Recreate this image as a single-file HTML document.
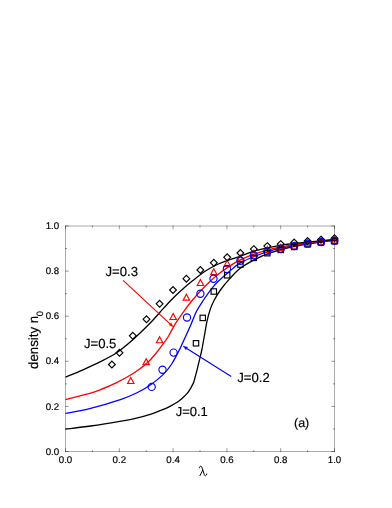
<!DOCTYPE html><html><head><meta charset="utf-8"><style>html,body{margin:0;padding:0;background:#fff}body{width:392px;height:508px;position:relative;overflow:hidden;font-family:"Liberation Sans",sans-serif}</style></head><body>
<svg width="392" height="508" viewBox="0 0 392 508" style="position:absolute;left:0;top:0;will-change:transform;opacity:0.999;text-rendering:geometricPrecision">
<g stroke="#000" stroke-width="1" fill="none" stroke-opacity="0.33">
<rect x="65.5" y="226.0" width="269.0" height="225.5"/>
</g>
<g stroke="#000" stroke-width="1" fill="none" stroke-opacity="0.4">
<path d="M65.50,452.0v-3.8M65.50,225.5v3.8"/>
<path d="M65.0,451.50h3.8M335.0,451.50h-3.8"/>
<path d="M92.40,452.0v-2.0M92.40,225.5v2.0"/>
<path d="M65.0,428.95h2.0M335.0,428.95h-2.0"/>
<path d="M119.30,452.0v-3.8M119.30,225.5v3.8"/>
<path d="M65.0,406.40h3.8M335.0,406.40h-3.8"/>
<path d="M146.20,452.0v-2.0M146.20,225.5v2.0"/>
<path d="M65.0,383.85h2.0M335.0,383.85h-2.0"/>
<path d="M173.10,452.0v-3.8M173.10,225.5v3.8"/>
<path d="M65.0,361.30h3.8M335.0,361.30h-3.8"/>
<path d="M200.00,452.0v-2.0M200.00,225.5v2.0"/>
<path d="M65.0,338.75h2.0M335.0,338.75h-2.0"/>
<path d="M226.90,452.0v-3.8M226.90,225.5v3.8"/>
<path d="M65.0,316.20h3.8M335.0,316.20h-3.8"/>
<path d="M253.80,452.0v-2.0M253.80,225.5v2.0"/>
<path d="M65.0,293.65h2.0M335.0,293.65h-2.0"/>
<path d="M280.70,452.0v-3.8M280.70,225.5v3.8"/>
<path d="M65.0,271.10h3.8M335.0,271.10h-3.8"/>
<path d="M307.60,452.0v-2.0M307.60,225.5v2.0"/>
<path d="M65.0,248.55h2.0M335.0,248.55h-2.0"/>
<path d="M334.50,452.0v-3.8M334.50,225.5v3.8"/>
<path d="M65.0,226.00h3.8M335.0,226.00h-3.8"/>
</g>
<path d="M65.50,429.10 C69.68,428.58 81.32,427.33 90.60,426.00 C99.88,424.67 113.55,422.42 121.20,421.10 C128.85,419.78 131.40,419.32 136.50,418.10 C141.60,416.88 147.55,415.17 151.80,413.80 C156.05,412.43 158.97,411.15 162.00,409.90 C165.03,408.65 167.28,407.70 170.00,406.30 C172.72,404.90 176.13,402.95 178.30,401.50 C180.47,400.05 181.52,398.95 183.00,397.60 C184.48,396.25 185.93,394.93 187.20,393.40 C188.47,391.87 189.52,390.23 190.60,388.40 C191.68,386.57 193.18,383.40 193.70,382.40 C193.97,381.42 194.77,378.45 195.30,376.50 C195.83,374.55 196.37,372.82 196.90,370.70 C197.43,368.58 197.95,366.10 198.50,363.80 C199.05,361.50 199.65,359.20 200.20,356.90 C200.75,354.60 201.10,353.53 201.80,350.00 C202.50,346.47 203.55,340.42 204.40,335.70 C205.25,330.98 205.90,326.17 206.90,321.70 C207.90,317.23 209.17,312.52 210.40,308.90 C211.63,305.28 212.57,303.23 214.30,300.00 C216.03,296.77 218.18,293.10 220.80,289.50 C223.42,285.90 226.75,281.93 230.00,278.40 C233.25,274.87 236.03,271.52 240.30,268.30 C244.57,265.08 250.48,261.70 255.60,259.10 C260.72,256.50 266.10,254.47 271.00,252.70 C275.90,250.93 280.17,249.73 285.00,248.50 C289.83,247.27 294.17,246.37 300.00,245.30 C305.83,244.23 314.25,242.95 320.00,242.10 C325.75,241.25 332.08,240.52 334.50,240.20" stroke-linejoin="round" fill="none" stroke="#000" stroke-width="1.3"/>
<path d="M65.50,413.40 C69.68,412.55 81.32,410.65 90.60,408.30 C99.88,405.95 113.55,401.85 121.20,399.30 C128.85,396.75 131.70,395.35 136.50,393.00 C141.30,390.65 145.62,388.22 150.00,385.20 C154.38,382.18 159.18,378.43 162.80,374.90 C166.42,371.37 168.95,368.15 171.70,364.00 C174.45,359.85 177.71,353.02 179.30,350.00 C180.89,346.98 179.47,349.77 181.25,345.90 C183.03,342.03 187.47,332.53 190.00,326.80 C192.53,321.07 194.15,315.97 196.40,311.50 C198.65,307.03 200.92,303.87 203.50,300.00 C206.08,296.13 209.43,291.43 211.90,288.30 C214.37,285.18 215.28,284.13 218.30,281.25 C221.32,278.37 226.33,274.06 230.00,271.00 C233.67,267.94 236.03,265.40 240.30,262.90 C244.57,260.40 250.48,258.03 255.60,256.00 C260.72,253.97 266.10,252.13 271.00,250.70 C275.90,249.27 280.17,248.42 285.00,247.40 C289.83,246.38 294.17,245.53 300.00,244.60 C305.83,243.67 314.25,242.57 320.00,241.80 C325.75,241.03 332.08,240.30 334.50,240.00" stroke-linejoin="round" fill="none" stroke="#00f" stroke-width="1.3"/>
<path d="M65.50,399.50 C69.68,398.43 84.85,394.72 90.60,393.10 C96.35,391.48 95.67,391.55 100.00,389.80 C104.33,388.05 111.28,385.20 116.60,382.60 C121.92,380.00 128.00,376.52 131.90,374.20 C135.80,371.88 137.38,370.64 140.00,368.70 C142.62,366.76 145.15,364.92 147.65,362.55 C150.15,360.18 152.44,357.56 155.00,354.50 C157.56,351.44 160.73,347.28 163.00,344.20 C165.27,341.12 166.85,338.90 168.60,336.00 C170.35,333.10 171.92,329.53 173.50,326.80 C175.08,324.07 176.52,321.97 178.10,319.60 C179.68,317.23 180.60,315.87 183.00,312.60 C185.40,309.33 188.75,304.48 192.50,300.00 C196.25,295.52 201.20,290.00 205.50,285.70 C209.80,281.40 214.22,277.50 218.30,274.20 C222.38,270.90 226.33,268.28 230.00,265.90 C233.67,263.52 236.03,261.93 240.30,259.90 C244.57,257.87 250.48,255.50 255.60,253.70 C260.72,251.90 266.10,250.33 271.00,249.10 C275.90,247.87 280.17,247.15 285.00,246.30 C289.83,245.45 294.17,244.82 300.00,244.00 C305.83,243.18 314.25,242.10 320.00,241.40 C325.75,240.70 332.08,240.07 334.50,239.80" stroke-linejoin="round" fill="none" stroke="#f00" stroke-width="1.3"/>
<path d="M65.50,377.10 C68.42,375.88 77.25,372.33 83.00,369.80 C88.75,367.27 94.40,364.73 100.00,361.90 C105.60,359.07 111.18,356.45 116.60,352.80 C122.02,349.15 126.93,344.92 132.50,340.00 C138.07,335.08 145.42,327.93 150.00,323.30 C154.58,318.67 156.50,316.05 160.00,312.20 C163.50,308.35 167.67,303.65 171.00,300.20 C174.33,296.75 176.37,294.77 180.00,291.50 C183.63,288.23 188.55,284.02 192.80,280.60 C197.05,277.18 201.25,273.77 205.50,271.00 C209.75,268.23 214.22,265.90 218.30,264.00 C222.38,262.10 226.33,260.88 230.00,259.60 C233.67,258.32 236.03,257.78 240.30,256.30 C244.57,254.82 250.48,252.22 255.60,250.70 C260.72,249.18 266.10,248.22 271.00,247.20 C275.90,246.18 280.17,245.33 285.00,244.60 C289.83,243.87 294.17,243.43 300.00,242.80 C305.83,242.17 314.25,241.35 320.00,240.80 C325.75,240.25 332.08,239.72 334.50,239.50" stroke-linejoin="round" fill="none" stroke="#000" stroke-width="1.3"/>
<path d="M130.80,377.45L134.00,383.45L127.60,383.45Z" fill="none" stroke="#f00" stroke-width="1.15"/>
<path d="M146.20,358.65L149.40,364.65L143.00,364.65Z" fill="none" stroke="#f00" stroke-width="1.15"/>
<path d="M159.60,336.75L162.80,342.75L156.40,342.75Z" fill="none" stroke="#f00" stroke-width="1.15"/>
<path d="M173.20,313.45L176.40,319.45L170.00,319.45Z" fill="none" stroke="#f00" stroke-width="1.15"/>
<path d="M186.40,294.15L189.60,300.15L183.20,300.15Z" fill="none" stroke="#f00" stroke-width="1.15"/>
<path d="M200.40,279.45L203.60,285.45L197.20,285.45Z" fill="none" stroke="#f00" stroke-width="1.15"/>
<path d="M213.80,268.65L217.00,274.65L210.60,274.65Z" fill="none" stroke="#f00" stroke-width="1.15"/>
<path d="M227.20,260.35L230.40,266.35L224.00,266.35Z" fill="none" stroke="#f00" stroke-width="1.15"/>
<path d="M240.40,255.25L243.60,261.25L237.20,261.25Z" fill="none" stroke="#f00" stroke-width="1.15"/>
<path d="M253.80,250.15L257.00,256.15L250.60,256.15Z" fill="none" stroke="#f00" stroke-width="1.15"/>
<path d="M267.30,246.55L270.50,252.55L264.10,252.55Z" fill="none" stroke="#f00" stroke-width="1.15"/>
<path d="M280.70,244.45L283.90,250.45L277.50,250.45Z" fill="none" stroke="#f00" stroke-width="1.15"/>
<path d="M294.20,242.25L297.40,248.25L291.00,248.25Z" fill="none" stroke="#f00" stroke-width="1.15"/>
<path d="M307.60,239.85L310.80,245.85L304.40,245.85Z" fill="none" stroke="#f00" stroke-width="1.15"/>
<path d="M321.00,238.25L324.20,244.25L317.80,244.25Z" fill="none" stroke="#f00" stroke-width="1.15"/>
<path d="M334.50,237.05L337.70,243.05L331.30,243.05Z" fill="none" stroke="#f00" stroke-width="1.15"/>
<path d="M111.90,361.10L115.30,364.50L111.90,367.90L108.50,364.50Z" fill="none" stroke="#000" stroke-width="1.15"/>
<path d="M119.50,349.40L122.90,352.80L119.50,356.20L116.10,352.80Z" fill="none" stroke="#000" stroke-width="1.15"/>
<path d="M132.80,332.40L136.20,335.80L132.80,339.20L129.40,335.80Z" fill="none" stroke="#000" stroke-width="1.15"/>
<path d="M146.50,315.80L149.90,319.20L146.50,322.60L143.10,319.20Z" fill="none" stroke="#000" stroke-width="1.15"/>
<path d="M159.60,300.40L163.00,303.80L159.60,307.20L156.20,303.80Z" fill="none" stroke="#000" stroke-width="1.15"/>
<path d="M173.00,286.60L176.40,290.00L173.00,293.40L169.60,290.00Z" fill="none" stroke="#000" stroke-width="1.15"/>
<path d="M186.40,275.30L189.80,278.70L186.40,282.10L183.00,278.70Z" fill="none" stroke="#000" stroke-width="1.15"/>
<path d="M200.40,266.60L203.80,270.00L200.40,273.40L197.00,270.00Z" fill="none" stroke="#000" stroke-width="1.15"/>
<path d="M213.80,259.40L217.20,262.80L213.80,266.20L210.40,262.80Z" fill="none" stroke="#000" stroke-width="1.15"/>
<path d="M227.20,253.90L230.60,257.30L227.20,260.70L223.80,257.30Z" fill="none" stroke="#000" stroke-width="1.15"/>
<path d="M240.40,249.60L243.80,253.00L240.40,256.40L237.00,253.00Z" fill="none" stroke="#000" stroke-width="1.15"/>
<path d="M253.80,245.70L257.20,249.10L253.80,252.50L250.40,249.10Z" fill="none" stroke="#000" stroke-width="1.15"/>
<path d="M267.30,242.70L270.70,246.10L267.30,249.50L263.90,246.10Z" fill="none" stroke="#000" stroke-width="1.15"/>
<path d="M280.70,240.70L284.10,244.10L280.70,247.50L277.30,244.10Z" fill="none" stroke="#000" stroke-width="1.15"/>
<path d="M294.20,239.10L297.60,242.50L294.20,245.90L290.80,242.50Z" fill="none" stroke="#000" stroke-width="1.15"/>
<path d="M307.60,237.60L311.00,241.00L307.60,244.40L304.20,241.00Z" fill="none" stroke="#000" stroke-width="1.15"/>
<path d="M321.00,236.20L324.40,239.60L321.00,243.00L317.60,239.60Z" fill="none" stroke="#000" stroke-width="1.15"/>
<path d="M334.50,234.90L337.90,238.30L334.50,241.70L331.10,238.30Z" fill="none" stroke="#000" stroke-width="1.15"/>
<rect x="193.30" y="340.60" width="5.4" height="5.4" fill="none" stroke="#000" stroke-width="1.15"/>
<rect x="200.05" y="315.20" width="5.4" height="5.4" fill="none" stroke="#000" stroke-width="1.15"/>
<rect x="211.10" y="288.80" width="5.4" height="5.4" fill="none" stroke="#000" stroke-width="1.15"/>
<rect x="224.50" y="272.60" width="5.4" height="5.4" fill="none" stroke="#000" stroke-width="1.15"/>
<rect x="237.70" y="261.90" width="5.4" height="5.4" fill="none" stroke="#000" stroke-width="1.15"/>
<rect x="251.10" y="255.20" width="5.4" height="5.4" fill="none" stroke="#000" stroke-width="1.15"/>
<rect x="264.60" y="250.50" width="5.4" height="5.4" fill="none" stroke="#000" stroke-width="1.15"/>
<rect x="278.00" y="247.20" width="5.4" height="5.4" fill="none" stroke="#000" stroke-width="1.15"/>
<rect x="291.50" y="244.20" width="5.4" height="5.4" fill="none" stroke="#000" stroke-width="1.15"/>
<rect x="304.90" y="241.60" width="5.4" height="5.4" fill="none" stroke="#000" stroke-width="1.15"/>
<rect x="318.30" y="239.80" width="5.4" height="5.4" fill="none" stroke="#000" stroke-width="1.15"/>
<rect x="331.80" y="238.60" width="5.4" height="5.4" fill="none" stroke="#000" stroke-width="1.15"/>
<circle cx="151.70" cy="386.90" r="3.6" fill="none" stroke="#00f" stroke-width="1.15"/>
<circle cx="162.50" cy="369.80" r="3.6" fill="none" stroke="#00f" stroke-width="1.15"/>
<circle cx="173.60" cy="352.60" r="3.6" fill="none" stroke="#00f" stroke-width="1.15"/>
<circle cx="187.00" cy="317.50" r="3.6" fill="none" stroke="#00f" stroke-width="1.15"/>
<circle cx="200.40" cy="293.75" r="3.6" fill="none" stroke="#00f" stroke-width="1.15"/>
<circle cx="213.50" cy="278.70" r="3.6" fill="none" stroke="#00f" stroke-width="1.15"/>
<circle cx="226.90" cy="268.90" r="3.6" fill="none" stroke="#00f" stroke-width="1.15"/>
<circle cx="240.40" cy="260.80" r="3.6" fill="none" stroke="#00f" stroke-width="1.15"/>
<circle cx="253.80" cy="255.30" r="3.6" fill="none" stroke="#00f" stroke-width="1.15"/>
<circle cx="267.30" cy="251.40" r="3.6" fill="none" stroke="#00f" stroke-width="1.15"/>
<circle cx="280.70" cy="248.60" r="3.6" fill="none" stroke="#00f" stroke-width="1.15"/>
<circle cx="294.20" cy="246.10" r="3.6" fill="none" stroke="#00f" stroke-width="1.15"/>
<circle cx="307.60" cy="243.70" r="3.6" fill="none" stroke="#00f" stroke-width="1.15"/>
<circle cx="321.00" cy="242.00" r="3.6" fill="none" stroke="#00f" stroke-width="1.15"/>
<circle cx="334.50" cy="240.80" r="3.6" fill="none" stroke="#00f" stroke-width="1.15"/>
<path d="M123.1,280.4L170.00,323.84" stroke="#f00" stroke-width="1.15" fill="none"/><path d="M173.3,326.9L168.98,324.94L171.02,322.74Z" fill="#f00" stroke="#f00" stroke-width="0.4"/>
<path d="M231.2,376.4L186.81,348.49" stroke="#00f" stroke-width="1.15" fill="none"/><path d="M183,346.1L187.61,347.23L186.01,349.76Z" fill="#00f" stroke="#00f" stroke-width="0.4"/>
<text x="65.50" y="463.3" font-size="9.7" text-anchor="middle" font-family="Liberation Sans, sans-serif" fill="#000" stroke="#000" stroke-width="0.18">0.0</text>
<text x="59.1" y="454.65" font-size="9.7" text-anchor="end" font-family="Liberation Sans, sans-serif" fill="#000" stroke="#000" stroke-width="0.18">0.0</text>
<text x="119.30" y="463.3" font-size="9.7" text-anchor="middle" font-family="Liberation Sans, sans-serif" fill="#000" stroke="#000" stroke-width="0.18">0.2</text>
<text x="59.1" y="409.55" font-size="9.7" text-anchor="end" font-family="Liberation Sans, sans-serif" fill="#000" stroke="#000" stroke-width="0.18">0.2</text>
<text x="173.10" y="463.3" font-size="9.7" text-anchor="middle" font-family="Liberation Sans, sans-serif" fill="#000" stroke="#000" stroke-width="0.18">0.4</text>
<text x="59.1" y="364.45" font-size="9.7" text-anchor="end" font-family="Liberation Sans, sans-serif" fill="#000" stroke="#000" stroke-width="0.18">0.4</text>
<text x="226.90" y="463.3" font-size="9.7" text-anchor="middle" font-family="Liberation Sans, sans-serif" fill="#000" stroke="#000" stroke-width="0.18">0.6</text>
<text x="59.1" y="319.35" font-size="9.7" text-anchor="end" font-family="Liberation Sans, sans-serif" fill="#000" stroke="#000" stroke-width="0.18">0.6</text>
<text x="280.70" y="463.3" font-size="9.7" text-anchor="middle" font-family="Liberation Sans, sans-serif" fill="#000" stroke="#000" stroke-width="0.18">0.8</text>
<text x="59.1" y="274.25" font-size="9.7" text-anchor="end" font-family="Liberation Sans, sans-serif" fill="#000" stroke="#000" stroke-width="0.18">0.8</text>
<text x="334.50" y="463.3" font-size="9.7" text-anchor="middle" font-family="Liberation Sans, sans-serif" fill="#000" stroke="#000" stroke-width="0.18">1.0</text>
<text x="59.1" y="229.15" font-size="9.7" text-anchor="end" font-family="Liberation Sans, sans-serif" fill="#000" stroke="#000" stroke-width="0.18">1.0</text>
<text x="105.5" y="275.9" font-size="13.15" font-family="Liberation Sans, sans-serif" fill="#000" stroke="#000" stroke-width="0.18">J=0.3</text>
<text x="83.9" y="348" font-size="13.15" font-family="Liberation Sans, sans-serif" fill="#000" stroke="#000" stroke-width="0.18">J=0.5</text>
<text x="237.2" y="382.4" font-size="13.15" font-family="Liberation Sans, sans-serif" fill="#000" stroke="#000" stroke-width="0.18">J=0.2</text>
<text x="175.7" y="416.4" font-size="13.0" font-family="Liberation Sans, sans-serif" fill="#000" stroke="#000" stroke-width="0.18">J=0.1</text>
<text x="294" y="427.2" font-size="12.5" font-family="Liberation Sans, sans-serif" fill="#000" stroke="#000" stroke-width="0.18">(a)</text>
<path d="M199.3,467.9 C199.5,466.6 200.3,466.0 201.0,466.2 C201.6,466.4 201.9,467.2 202.2,468.2 L204.3,474.7 C204.6,475.6 205.1,475.9 205.7,475.7 C206.3,475.5 206.6,474.8 206.8,474.0" fill="none" stroke="#000" stroke-width="1.0" stroke-linecap="round"/><path d="M202.7,470.3 L199.9,475.7" fill="none" stroke="#000" stroke-width="0.95" stroke-linecap="round"/>
<text transform="translate(38.15,369.0) rotate(-90)" font-size="13.3" font-family="Liberation Sans, sans-serif" fill="#000" stroke="#000" stroke-width="0.18">density n<tspan font-size="9.3" dy="4.9" dx="-0.4">0</tspan></text>
</svg>
</body></html>
